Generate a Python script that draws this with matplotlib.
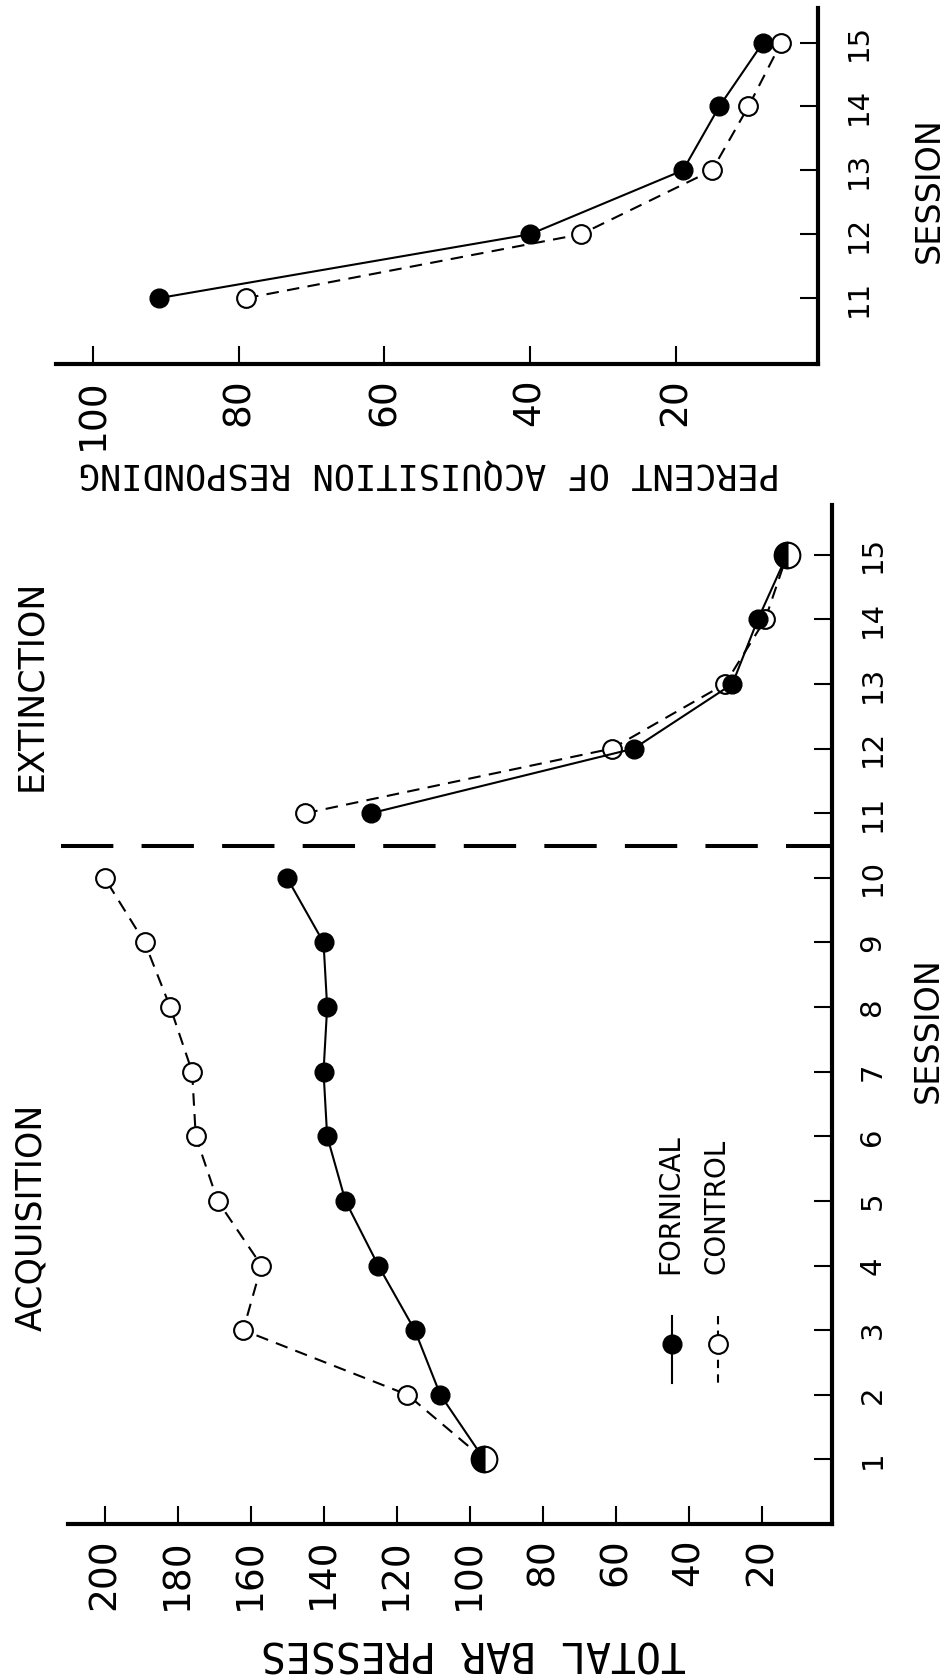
import numpy as np
import matplotlib.pyplot as plt
from matplotlib.lines import Line2D

# sessions
acq_sessions = [1, 2, 3, 4, 5, 6, 7, 8, 9, 10]
ext_sessions = [11, 12, 13, 14, 15]

# total bar presses
fornical_acq = [96, 108, 115, 125, 134, 139, 140, 139, 140, 150]
control_acq = [96, 117, 162, 157, 169, 175, 176, 182, 189, 200]
fornical_ext = [127, 55, 28, 21, 13]
control_ext = [145, 61, 30, 19, 13]

# percent of acquisition responding (extinction sessions)
fornical_pct = [91, 40, 19, 14, 8]
control_pct = [79, 33, 15, 10, 5.5]

presses_ticks = [20, 40, 60, 80, 100, 120, 140, 160, 180, 200]
pct_ticks = [20, 40, 60, 80, 100]
session_ticks = list(range(1, 16))

W, H = 951, 1676
fig = plt.figure(figsize=(W / 100, H / 100), dpi=100)


def box(left, top, right, bottom):
    # pixel box -> figure fraction rect
    return [left / W, 1 - bottom / H, (right - left) / W, (bottom - top) / H]


def fx(x):
    return x / W


def fy(y):
    return 1 - y / H


def style(ax, xticks, yticks):
    for side in ('left', 'top'):
        ax.spines[side].set_visible(False)
    for side in ('bottom', 'right'):
        ax.spines[side].set_linewidth(3)
    ax.set_xticks(xticks)
    ax.set_yticks(yticks)
    ax.yaxis.tick_right()
    ax.tick_params(axis='both', direction='in', length=13, width=1.5)
    ax.tick_params(axis='x', labelsize=27, pad=10, labelrotation=90)
    ax.tick_params(axis='y', labelsize=21, pad=19, labelrotation=90)
    for lab in ax.get_yticklabels():
        lab.set_verticalalignment('center')


def draw_pair(ax, sessions, fornical, control):
    ax.plot(control, sessions, ls=(0, (6, 4)), color='black', lw=1.5,
            marker='o', ms=13.5, mfc='white', mec='black', mew=1.5,
            zorder=3, clip_on=False)
    ax.plot(fornical, sessions, ls='-', color='black', lw=1.5,
            marker='o', ms=13.5, mfc='black', mec='black',
            zorder=4, clip_on=False)
    f = np.array(fornical, dtype=float)
    c = np.array(control, dtype=float)
    s = np.array(sessions)
    same = f == c
    # both groups at the same value: half filled circle
    ax.plot(f[same], s[same], ls='none', marker='o', ms=18.5,
            fillstyle='left', mfc='black', mfcalt='white', mec='black',
            mew=1.5, zorder=5, clip_on=False)


# lower panel: total bar presses
ax1 = fig.add_axes(box(68, 505, 832, 1524))
ax1.set_xlim(210, 0.7)
ax1.set_ylim(0, 15.77)
style(ax1, presses_ticks, session_ticks)
draw_pair(ax1, acq_sessions, fornical_acq, control_acq)
draw_pair(ax1, ext_sessions, fornical_ext, control_ext)
ax1.axhline(10.5, xmin=-0.009, xmax=1, color='black', lw=2.9,
            ls=(0, (13, 7)), clip_on=False)

# upper panel: percent of acquisition responding
ax2 = fig.add_axes(box(56, 8, 818, 364))
ax2.set_xlim(105.1, 0.45)
ax2.set_ylim(9.97, 15.54)
style(ax2, pct_ticks, ext_sessions)
draw_pair(ax2, ext_sessions, fornical_pct, control_pct)

# labels
fig.text(fx(31), fy(1217), 'ACQUISITION', rotation=90, ha='center',
         va='center', fontsize=25)
fig.text(fx(31), fy(685), 'EXTINCTION', rotation=90, ha='center',
         va='center', fontsize=25)
fig.text(fx(928), fy(1030), 'SESSION', rotation=90, ha='center',
         va='center', fontsize=24)
fig.text(fx(929), fy(190), 'SESSION', rotation=90, ha='center',
         va='center', fontsize=24)
fig.text(fx(474), fy(1652), 'TOTAL BAR PRESSES', rotation=180, ha='center',
         va='center', fontsize=30, family='DejaVu Sans Mono')
fig.text(fx(429), fy(474), 'PERCENT OF ACQUISITION RESPONDING', rotation=180,
         ha='center', va='center', fontsize=25.5, family='DejaVu Sans Mono')

# key
fig.add_artist(Line2D([fx(672)] * 2, [fy(1316), fy(1383)], color='black', lw=1.5))
fig.add_artist(Line2D([fx(672)], [fy(1344)], ls='none', marker='o', ms=13.5,
                      mfc='black', mec='black'))
fig.add_artist(Line2D([fx(718)] * 2, [fy(1316), fy(1383)], color='black', lw=1.5,
                      ls=(0, (4, 3))))
fig.add_artist(Line2D([fx(718)], [fy(1344)], ls='none', marker='o', ms=13.5,
                      mfc='white', mec='black', mew=1.5))
fig.text(fx(670), fy(1274), 'FORNICAL', rotation=90, ha='center', va='bottom',
         fontsize=20)
fig.text(fx(717), fy(1274), 'CONTROL', rotation=90, ha='center', va='bottom',
         fontsize=20)

fig.savefig('out.png', dpi=100)
